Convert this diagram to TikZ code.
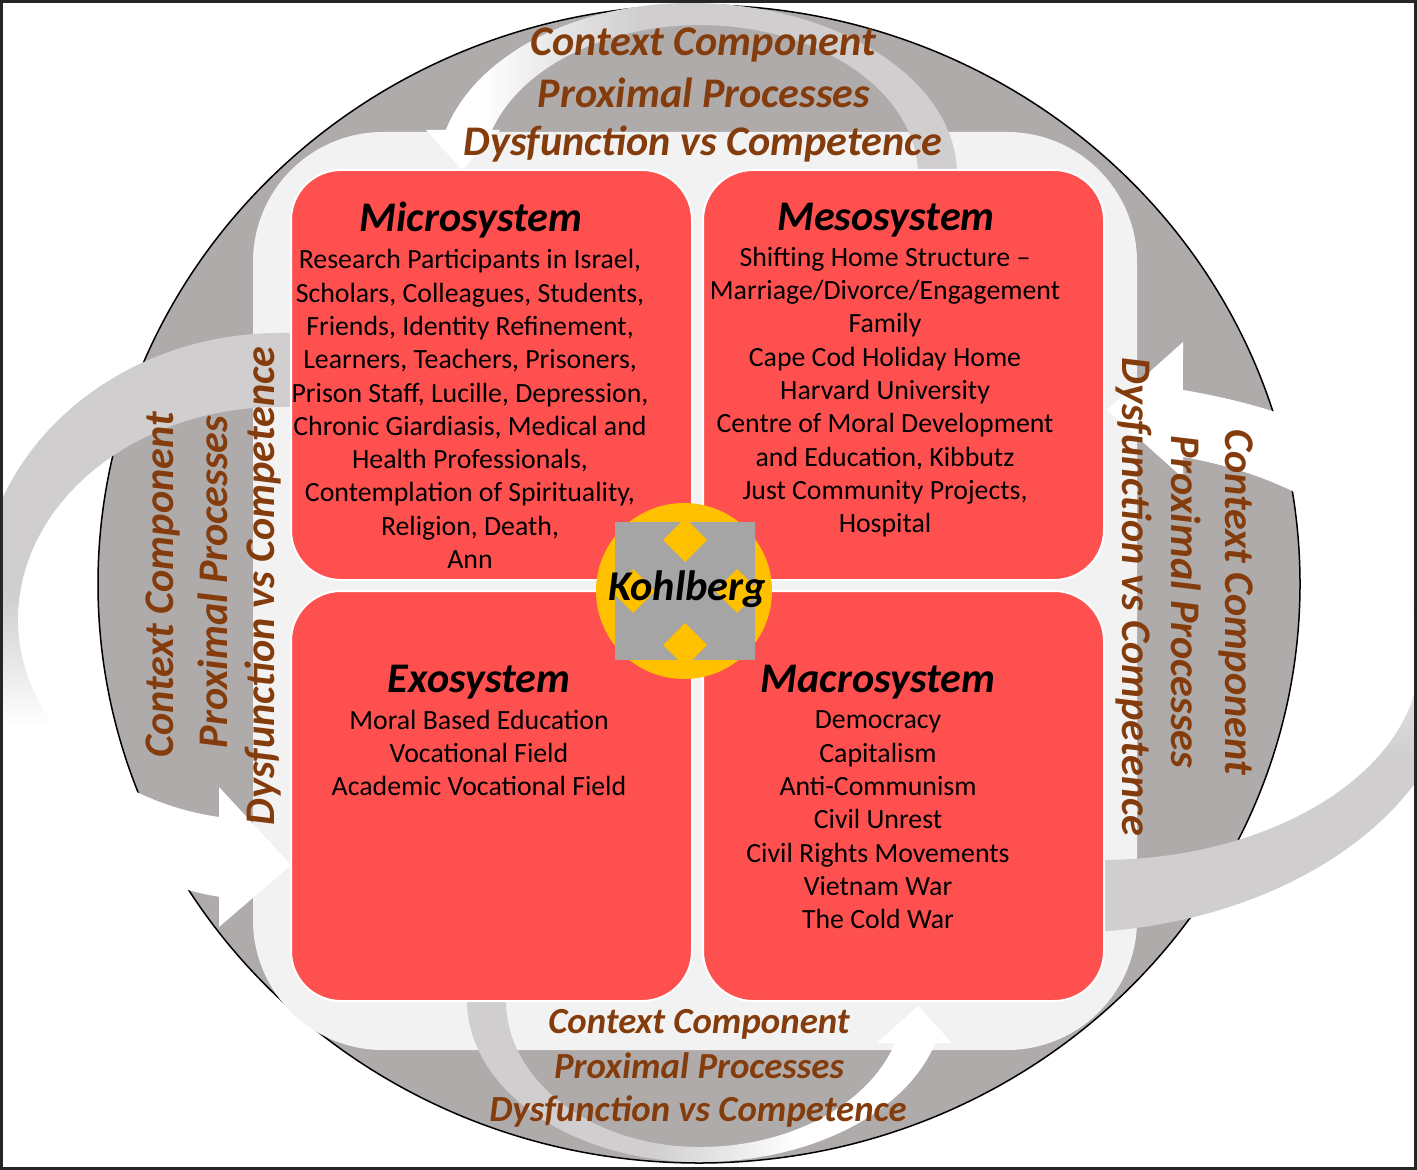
\documentclass[tikz,border=0pt]{standalone}
\usepackage{fontspec}
\setmainfont{Carlito}
\definecolor{ellgray}{HTML}{AFABAB}
\definecolor{lightfill}{HTML}{F2F2F2}
\definecolor{argray}{HTML}{D0CECE}
\definecolor{boxred}{HTML}{FF5050}
\definecolor{ctxbrown}{HTML}{843C0C}
\definecolor{kyellow}{HTML}{FFC000}
\definecolor{kgray}{HTML}{A5A5A5}
\pgfdeclarehorizontalshading{topshade}{100bp}{color(0bp)=(white); color(30bp)=(white); color(45bp)=(argray); color(100bp)=(argray)}
\pgfdeclarehorizontalshading{botshade}{100bp}{color(0bp)=(argray); color(44bp)=(argray); color(59bp)=(white); color(100bp)=(white)}
\pgfdeclareverticalshading{leftshade}{100bp}{color(0bp)=(white); color(42bp)=(white); color(53bp)=(argray); color(100bp)=(argray)}
\pgfdeclareverticalshading{rightshade}{100bp}{color(0bp)=(argray); color(40bp)=(argray); color(54bp)=(white); color(100bp)=(white)}
\begin{document}
\begin{tikzpicture}[x=0.5pt,y=-0.5pt,
  ctx/.style={font=\fontsize{21.1}{25}\selectfont\bfseries\itshape, text=ctxbrown, inner sep=0pt},
  ctxs/.style={font=\fontsize{18.4}{22}\selectfont\bfseries\itshape, text=ctxbrown, inner sep=0pt},
  redbox/.style={fill=boxred, draw=white, line width=1pt, rounded corners=25pt, minimum width=200.5pt, minimum height=205pt, inner sep=0pt},
  boxtitle/.style={font=\fontsize{21.1}{25}\selectfont\bfseries\itshape, inner sep=0pt},
  boxbody/.style={font=\fontsize{13.9}{16.65}\selectfont, align=center, inner sep=0pt}]
\useasboundingbox (0,0) rectangle (1417,1170);
\begin{scope}
\clip (0,0) rectangle (1417,1170);
\fill[white] (0,0) rectangle (1417,1170);
% outer ellipse
\filldraw[fill=ellgray, draw=black, line width=0.75pt] (699,584) ellipse[x radius=601, y radius=579];
% light inner field
\fill[lightfill, rounded corners=65pt] (253,132) rectangle (1137,1050);
% top curved arrow
\shade[shading=topshade] (957,175) arc[start angle=0, end angle=-90, x radius=267, y radius=172]
  arc[start angle=-90, end angle=-164.8, x radius=253, y radius=172]
  -- (426,130) -- (462,170) -- (500,130) -- (492,130)
  arc[start angle=-162.5, end angle=-90, x radius=218, y radius=150]
  arc[start angle=-90, end angle=0, x radius=218, y radius=150] -- cycle;
% right curved arrow
\shade[shading=rightshade] (1060,933) arc[start angle=90, end angle=0, x radius=400, y radius=278]
  -- (1520,655) arc[start angle=0, end angle=-74.5, x radius=460, y radius=275]
  -- (1183,342) -- (1107,410) -- (1183,478) -- (1183,457)
  arc[start angle=-75, end angle=90, x radius=320, y radius=205] -- cycle;
% left curved arrow
\shade[shading=leftshade] (295,333) -- (280,333)
  arc[start angle=-90, end angle=-180, x radius=300, y radius=267]
  arc[start angle=180, end angle=98.4, x radius=280, y radius=300]
  -- (219,927) -- (291,865) -- (219,787) -- (219,817)
  arc[start angle=99.75, end angle=180, x radius=242, y radius=200]
  arc[start angle=180, end angle=270, x radius=262, y radius=213] -- (295,407) -- cycle;
% bottom curved arrow
\shade[shading=botshade] (467,1000) arc[start angle=180, end angle=90, x radius=233, y radius=162]
  arc[start angle=90, end angle=15.4, x radius=244, y radius=162]
  -- (952,1043) -- (918,1006) -- (877,1043) -- (895,1043)
  arc[start angle=17, end angle=90, x radius=204, y radius=147]
  arc[start angle=90, end angle=180, x radius=194, y radius=147] -- cycle;
\end{scope}
% context labels
\node[ctx] (ctxT1) at (703,45) {Context Component};
\node[ctx] (ctxT2) at (704,93) {Proximal Processes};
\node[ctx] (ctxT3) at (703,144) {Dysfunction vs Competence};
\node[ctxs] (ctxB1) at (699,1024) {Context Component};
\node[ctxs] (ctxB2) at (699,1066) {Proximal Processes};
\node[ctxs] (ctxB3) at (698,1111) {Dysfunction vs Competence};
\node[ctx, rotate=90] (ctxL1) at (163,585) {Context Component};
\node[ctx, rotate=90] (ctxL2) at (213,582) {Proximal Processes};
\node[ctx, rotate=90] (ctxL3) at (263,586) {Dysfunction vs Competence};
\node[ctx, rotate=-90] (ctxR1) at (1236,602) {Context Component};
\node[ctx, rotate=-90] (ctxR2) at (1186,602) {Proximal Processes};
\node[ctx, rotate=-90] (ctxR3) at (1134,597) {Dysfunction vs Competence};
% system boxes
\node[redbox] (micro) at (491.5,375) {};
\node[redbox] (meso) at (903.5,375) {};
\node[redbox] (exo) at (491.5,796) {};
\node[redbox] (macro) at (903.5,796) {};
\node[boxtitle] (tmicro) at (471,220) {Microsystem};
\node[boxtitle] (tmeso) at (886,220) {Mesosystem};
\node[boxtitle] (texo) at (479,682) {Exosystem};
\node[boxtitle] (tmacro) at (878,682) {Macrosystem};
\node[boxbody] (bmicro) at (470,409) {Research Participants in Israel,\\Scholars, Colleagues, Students,\\Friends, Identity Refinement,\\Learners, Teachers, Prisoners,\\Prison Staff, Lucille, Depression,\\Chronic Giardiasis, Medical and\\Health Professionals,\\Contemplation of Spirituality,\\Religion, Death,\\Ann};
\node[boxbody] (bmeso) at (885,392) {Shifting Home Structure --\\Marriage/Divorce/Engagement\\Family\\Cape Cod Holiday Home\\Harvard University\\Centre of Moral Development\\and Education, Kibbutz\\Just Community Projects,\\Hospital};
\node[boxbody] (bexo) at (479,753) {Moral Based Education\\Vocational Field\\Academic Vocational Field};
\node[boxbody] (bmacro) at (878,820) {Democracy\\Capitalism\\Anti-Communism\\Civil Unrest\\Civil Rights Movements\\Vietnam War\\The Cold War};
% Kohlberg emblem
\fill[kyellow] (684,591) circle[radius=88];
\fill[kgray] (615,522) rectangle (755,660);
\fill[kyellow] (685,518) -- (707,540) -- (685,562) -- (663,540) -- cycle;
\fill[kyellow] (685,623) -- (707,645) -- (685,667) -- (663,645) -- cycle;
\fill[kyellow] (633,569) -- (655,591) -- (633,613) -- (611,591) -- cycle;
\fill[kyellow] (737,569) -- (759,591) -- (737,613) -- (715,591) -- cycle;
\node[font=\fontsize{21.2}{25}\selectfont\bfseries\itshape, inner sep=0pt] (kohl) at (687,589) {Kohlberg};
% frame
\draw[line width=1.5pt, black!85] (1.5,1.5) rectangle (1415.5,1168.5);
\end{tikzpicture}
\end{document}
